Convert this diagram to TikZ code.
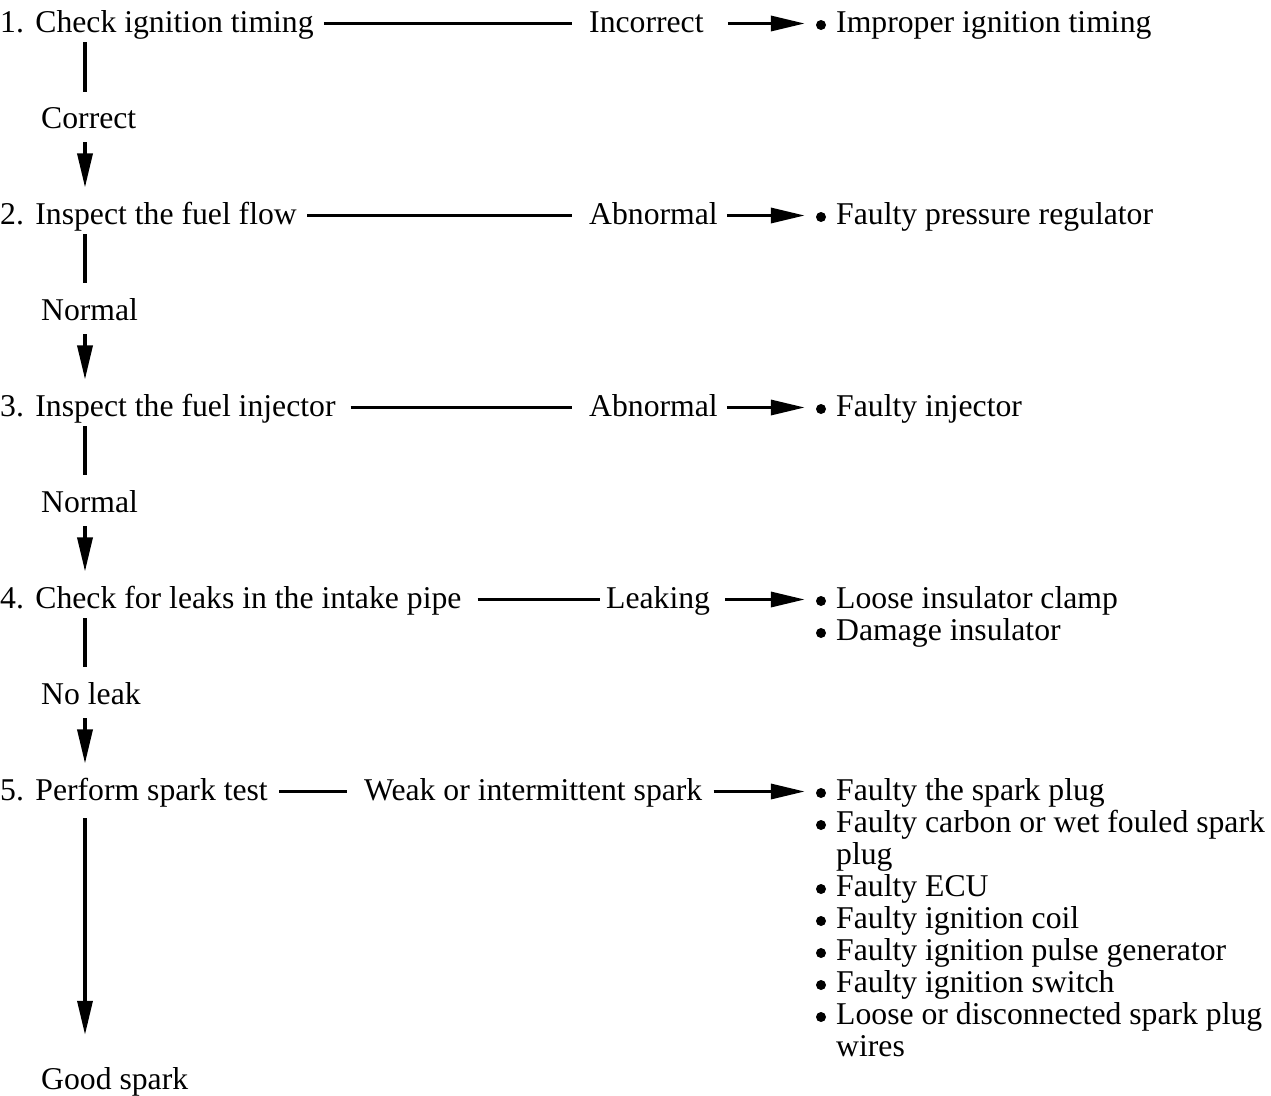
\documentclass[tikz,border=0pt]{standalone}
\usepackage{fontspec}
\setmainfont{Liberation Serif}
\usetikzlibrary{arrows.meta}
\frenchspacing
\newcommand{\numgap}{\hspace{3.5pt} }
\begin{document}
\begin{tikzpicture}[x=1pt,y=-1pt,
  txt/.style={anchor=base west,inner sep=0pt,font=\fontsize{31.7}{34}\selectfont\frenchspacing},
  conn/.style={line width=3.4pt},
  arr/.style={conn,-{Triangle[length=34pt,width=15pt]}},
  dot/.style={circle,fill,inner sep=0pt,minimum size=10pt}]
\useasboundingbox (0,0) rectangle (1271,1095);
\coordinate (vx) at (85,0);
% row 1
\node[txt] (q1) at (0,32) {1.\numgap Check ignition timing};
\node[txt] (r1) at (589,32) {Incorrect};
\coordinate (m1) at (0,23.5);
\node[dot] (d1) at (821,25) {};
\node[txt] (t1) at (836,32) {Improper ignition timing};
\draw[conn,shorten <=10pt,shorten >=17pt] (q1.east |- m1) -- (r1.west |- m1);
\draw[arr,shorten <=24pt,shorten >=11pt] (r1.east |- m1) -- (d1.west |- m1);
\node[txt] (c1) at (41,128) {Correct};
% row 2
\node[txt] (q2) at (0,224) {2.\numgap Inspect the fuel flow};
\node[txt] (r2) at (589,224) {Abnormal};
\coordinate (m2) at (0,215.5);
\node[dot] (d2) at (821,217) {};
\node[txt] (t2) at (836,224) {Faulty pressure regulator};
\draw[conn,shorten <=10pt,shorten >=17pt] (q2.east |- m2) -- (r2.west |- m2);
\draw[arr,shorten <=9pt,shorten >=11pt] (r2.east |- m2) -- (d2.west |- m2);
\node[txt] (c2) at (41,320) {Normal};
% row 3
\node[txt] (q3) at (0,416) {3.\numgap Inspect the fuel injector};
\node[txt] (r3) at (589,416) {Abnormal};
\coordinate (m3) at (0,407.5);
\node[dot] (d3) at (821,409) {};
\node[txt] (t3) at (836,416) {Faulty injector};
\draw[conn,shorten <=15pt,shorten >=17pt] (q3.east |- m3) -- (r3.west |- m3);
\draw[arr,shorten <=9pt,shorten >=11pt] (r3.east |- m3) -- (d3.west |- m3);
\node[txt] (c3) at (41,512) {Normal};
% row 4
\node[txt] (q4) at (0,608) {4.\numgap Check for leaks in the intake pipe};
\node[txt] (r4) at (606,608) {Leaking};
\coordinate (m4) at (0,599.5);
\node[dot] (d4) at (821,601) {};
\node[txt] (t4) at (836,608) {Loose insulator clamp};
\node[dot] (d4b) at (821,633) {};
\node[txt] (t4b) at (836,640) {Damage insulator};
\draw[conn,shorten <=16pt,shorten >=6pt] (q4.east |- m4) -- (r4.west |- m4);
\draw[arr,shorten <=15pt,shorten >=11pt] (r4.east |- m4) -- (d4.west |- m4);
\node[txt] (c4) at (41,704) {No leak};
% row 5
\node[txt] (q5) at (0,800) {5.\numgap Perform spark test};
\node[txt] (r5) at (364,800) {Weak or intermittent spark};
\coordinate (m5) at (0,791.5);
\node[dot] (d5) at (821,793) {};
\node[txt] (t5) at (836,800) {Faulty the spark plug};
\node[dot] (d5b) at (821,825) {};
\node[txt] (t5b) at (836,832) {Faulty carbon or wet fouled spark};
\node[txt] (t5c) at (836,864) {plug};
\node[dot] (d5d) at (821,889) {};
\node[txt] (t5d) at (836,896) {Faulty ECU};
\node[dot] (d5e) at (821,921) {};
\node[txt] (t5e) at (836,928) {Faulty ignition coil};
\node[dot] (d5f) at (821,953) {};
\node[txt] (t5f) at (836,960) {Faulty ignition pulse generator};
\node[dot] (d5g) at (821,985) {};
\node[txt] (t5g) at (836,992) {Faulty ignition switch};
\node[dot] (d5h) at (821,1017) {};
\node[txt] (t5h) at (836,1024) {Loose or disconnected spark plug};
\node[txt] (t5i) at (836,1056) {wires};
\draw[conn,shorten <=11pt,shorten >=17pt] (q5.east |- m5) -- (r5.west |- m5);
\draw[arr,shorten <=11pt,shorten >=11pt] (r5.east |- m5) -- (d5.west |- m5);
\node[txt] (g) at (41,1089) {Good spark};
% verticals
\draw[conn,shorten <=10pt,shorten >=15pt] (vx |- q1.base) -- (vx |- c1.north);
\draw[arr,shorten <=14pt,shorten >=14pt] (vx |- c1.base) -- (vx |- q2.north);
\draw[conn,shorten <=10pt,shorten >=15pt] (vx |- q2.base) -- (vx |- c2.north);
\draw[arr,shorten <=14pt,shorten >=14pt] (vx |- c2.base) -- (vx |- q3.north);
\draw[conn,shorten <=10pt,shorten >=15pt] (vx |- q3.base) -- (vx |- c3.north);
\draw[arr,shorten <=14pt,shorten >=14pt] (vx |- c3.base) -- (vx |- q4.north);
\draw[conn,shorten <=10pt,shorten >=15pt] (vx |- q4.base) -- (vx |- c4.north);
\draw[arr,shorten <=14pt,shorten >=14pt] (vx |- c4.base) -- (vx |- q5.north);
\draw[arr,shorten <=18pt,shorten >=32pt] (vx |- q5.base) -- (vx |- g.north);
\end{tikzpicture}
\end{document}
